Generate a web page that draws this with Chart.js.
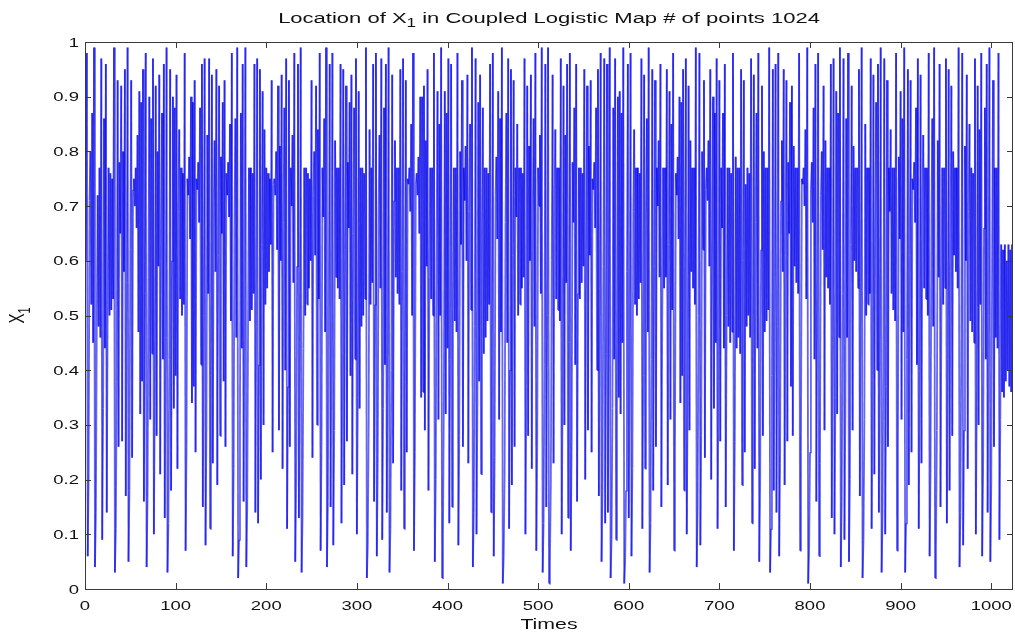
<!DOCTYPE html>
<html>
<head>
<meta charset="utf-8">
<script src="https://cdn.jsdelivr.net/npm/chart.js@4.4.1/dist/chart.umd.min.js"></script>
<style>
html,body{margin:0;padding:0;background:#fff;}
#wrap{width:1015px;height:633px;}
</style>
</head>
<body>
<div id="wrap"><canvas id="c" width="1015" height="633"></canvas></div>
<script>
// ---- text ----
const titleMain = "Location of X";
const titleSub = "1";
const titleRest = " in Coupled Logistic Map # of points 1024";
const xAxisTitle = "Times";
const yAxisTitleMain = "X";
const yAxisTitleSub = "1";

// ---- tick labels ----
const xTickValues = [0,100,200,300,400,500,600,700,800,900,1000];
const xTickLabels = ["0","100","200","300","400","500","600","700","800","900","1000"];
const yTickValues = [0,0.1,0.2,0.3,0.4,0.5,0.6,0.7,0.8,0.9,1];
const yTickLabels = ["0","0.1","0.2","0.3","0.4","0.5","0.6","0.7","0.8","0.9","1"];

// ---- series X1 in blocks of 64 steps ----
const seg00 = [0.60,0.98,0.06,0.21,0.71,0.80,0.52,0.87,0.45,0.99,0.04,0.14,0.49,0.72,0.48,0.77,
0.46,0.97,0.09,0.33,0.86,0.44,0.96,0.14,0.52,0.77,0.50,0.76,0.51,0.75,0.53,0.99,
0.03,0.11,0.38,0.93,0.26,0.78,0.65,0.92,0.27,0.80,0.58,0.95,0.17,0.56,0.99,0.05,
0.18,0.62,0.93,0.24,0.73,0.75,0.70,0.77,0.66,0.83,0.47,0.91,0.32,0.89,0.38,0.95];
const seg01 = [0.16,0.54,0.98,0.04,0.17,0.57,0.90,0.31,0.86,0.43,0.97,0.10,0.36,0.92,0.28,0.80,
0.59,0.94,0.21,0.66,0.87,0.42,0.96,0.13,0.46,0.99,0.03,0.12,0.42,0.95,0.18,0.60,
0.90,0.33,0.88,0.39,0.94,0.22,0.69,0.84,0.53,0.77,0.50,0.76,0.52,0.98,0.07,0.26,
0.75,0.72,0.79,0.64,0.90,0.34,0.89,0.37,0.93,0.25,0.75,0.73,0.78,0.67,0.88,0.41];
const seg02 = [0.96,0.15,0.50,0.97,0.08,0.30,0.83,0.54,0.97,0.11,0.39,0.94,0.23,0.70,0.82,0.58,
0.95,0.19,0.61,0.92,0.28,0.79,0.65,0.89,0.38,0.93,0.26,0.76,0.72,0.78,0.68,0.85,
0.49,0.98,0.06,0.22,0.68,0.86,0.46,0.99,0.02,0.09,0.32,0.87,0.44,0.96,0.16,0.53,
0.99,0.04,0.15,0.51,0.77,0.49,0.77,0.51,0.76,0.54,0.96,0.14,0.48,0.97,0.12,0.41];
const seg03 = [0.95,0.20,0.63,0.91,0.30,0.84,0.52,0.77,0.55,0.76,0.58,0.75,0.63,0.93,0.25,0.74,
0.75,0.72,0.80,0.62,0.92,0.29,0.81,0.60,0.94,0.22,0.67,0.88,0.40,0.97,0.11,0.37,
0.93,0.26,0.77,0.70,0.83,0.56,0.98,0.05,0.19,0.59,0.96,0.13,0.45,0.99,0.03,0.13,
0.44,0.77,0.50,0.77,0.52,0.76,0.55,0.75,0.60,0.93,0.24,0.72,0.80,0.61,0.92,0.30];
const seg04 = [0.84,0.53,0.98,0.07,0.27,0.77,0.68,0.86,0.47,0.99,0.04,0.16,0.53,0.96,0.15,0.49,
0.98,0.08,0.29,0.82,0.57,0.77,0.55,0.77,0.53,0.96,0.12,0.43,0.95,0.19,0.62,0.92,
0.27,0.78,0.66,0.89,0.39,0.94,0.21,0.65,0.88,0.42,0.97,0.10,0.35,0.91,0.33,0.77,
0.48,0.77,0.50,0.76,0.53,0.99,0.02,0.08,0.30,0.84,0.52,0.77,0.56,0.96,0.16,0.52];
const seg05 = [0.98,0.06,0.23,0.70,0.83,0.55,0.97,0.09,0.33,0.88,0.41,0.96,0.14,0.47,0.99,0.03,
0.11,0.40,0.94,0.23,0.71,0.82,0.57,0.77,0.54,0.77,0.52,0.95,0.18,0.58,0.97,0.11,
0.38,0.93,0.25,0.75,0.74,0.77,0.69,0.85,0.50,0.98,0.07,0.25,0.74,0.76,0.72,0.79,
0.65,0.90,0.35,0.90,0.36,0.92,0.29,0.82,0.59,0.95,0.18,0.57,0.77,0.53,0.77,0.50];
const seg06 = [0.98,0.05,0.20,0.64,0.91,0.31,0.85,0.50,0.99,0.02,0.10,0.36,0.91,0.32,0.87,0.44,
0.97,0.12,0.42,0.96,0.15,0.51,0.77,0.49,0.77,0.47,0.98,0.08,0.28,0.80,0.63,0.93,
0.26,0.77,0.71,0.81,0.60,0.94,0.23,0.69,0.85,0.51,0.99,0.04,0.14,0.48,0.97,0.10,
0.34,0.89,0.38,0.94,0.21,0.66,0.88,0.43,0.77,0.46,0.77,0.49,0.76,0.52,0.96,0.14];
const seg07 = [0.47,0.98,0.06,0.24,0.72,0.79,0.64,0.91,0.31,0.86,0.47,0.99,0.01,0.06,0.21,0.67,
0.87,0.45,0.97,0.11,0.40,0.95,0.19,0.61,0.93,0.26,0.77,0.68,0.85,0.50,0.77,0.52,
0.77,0.55,0.76,0.57,0.97,0.10,0.37,0.92,0.28,0.81,0.60,0.94,0.22,0.68,0.86,0.48,
0.98,0.07,0.26,0.77,0.70,0.83,0.54,0.99,0.03,0.12,0.41,0.96,0.15,0.50,0.99,0.01];
const seg08 = [0.05,0.19,0.60,0.94,0.23,0.70,0.84,0.53,0.77,0.51,0.77,0.49,0.97,0.10,0.36,0.92,
0.30,0.83,0.56,0.96,0.13,0.45,0.98,0.07,0.27,0.78,0.67,0.88,0.41,0.96,0.16,0.54,
0.77,0.53,0.77,0.56,0.76,0.59,0.95,0.20,0.62,0.92,0.29,0.81,0.61,0.93,0.25,0.75,
0.73,0.78,0.66,0.88,0.40,0.95,0.17,0.55,0.98,0.05,0.18,0.59,0.97,0.12,0.43,0.96];
const seg09 = [0.14,0.49,0.99,0.02,0.09,0.33,0.88,0.42,0.97,0.09,0.34,0.90,0.35,0.91,0.32,0.87,
0.45,0.99,0.01,0.05,0.18,0.58,0.96,0.13,0.46,0.98,0.06,0.22,0.69,0.84,0.52,0.77,
0.50,0.77,0.53,0.76,0.56,0.97,0.11,0.39,0.94,0.22,0.68,0.86,0.47,0.99,0.03,0.12,
0.42,0.95,0.18,0.59,0.93,0.26,0.77,0.70,0.82,0.57,0.96,0.15,0.51,0.77,0.55,0.77];
const seg10 = [0.57,0.95,0.19,0.63,0.91,0.31,0.85,0.51,0.98,0.07,0.26,0.76,0.72,0.79,0.64,0.90,
0.34,0.89,0.39,0.95,0.18,0.59,0.97,0.10,0.36,0.92,0.29,0.82,0.58,0.77,0.55,0.77,
0.52,0.99,0.04,0.15,0.50,0.98,0.08,0.28,0.80,0.62,0.93,0.24,0.73,0.77,0.71,0.82,
0.59,0.95,0.20,0.64,0.90,0.33,0.87,0.45,0.97,0.11,0.38,0.93,0.27,0.77,0.66,0.87];
const seg11 = [0.44,0.96,0.15,0.50,0.77,0.48,0.77,0.45,0.76,0.47,0.98,0.07,0.27,0.79,0.44,0.77,
0.46,0.77,0.43,0.95,0.19,0.60,0.93,0.25,0.74,0.48,0.77,0.50,0.76,0.46,0.97,0.12,
0.41,0.94,0.22,0.67,0.87,0.44,0.98,0.05,0.19,0.62,0.92,0.28,0.80,0.47,0.77,0.49,
0.77,0.51,0.99,0.03,0.11,0.39,0.95,0.18,0.57,0.96,0.14,0.48,0.98,0.06,0.23,0.71];
const seg12 = [0.82,0.58,0.95,0.19,0.61,0.93,0.27,0.78,0.65,0.89,0.37,0.92,0.28,0.81,0.59,0.77,
0.56,0.77,0.54,0.98,0.07,0.25,0.75,0.74,0.77,0.70,0.84,0.53,0.99,0.01,0.07,0.25,
0.73,0.78,0.67,0.88,0.42,0.96,0.16,0.53,0.98,0.06,0.23,0.72,0.80,0.62,0.92,0.29,
0.82,0.57,0.77,0.55,0.77,0.52,0.96,0.13,0.45,0.97,0.10,0.35,0.91,0.32,0.87,0.46];
const seg13 = [0.99,0.04,0.16,0.54,0.97,0.09,0.32,0.86,0.46,0.98,0.05,0.20,0.63,0.92,0.29,0.81,
0.60,0.77,0.58,0.77,0.55,0.95,0.17,0.56,0.99,0.02,0.09,0.31,0.85,0.50,0.77,0.52,
0.77,0.54,0.97,0.11,0.39,0.94,0.21,0.66,0.89,0.40,0.96,0.14,0.49,0.99,0.03,0.13,
0.45,0.97,0.10,0.37,0.93,0.26,0.77,0.69,0.84,0.54,0.77,0.51,0.77,0.49,0.98,0.07];
const seg14 = [0.27,0.79,0.64,0.91,0.31,0.86,0.47,0.99,0.03,0.12,0.42,0.95,0.19,0.61,0.93,0.25,
0.75,0.73,0.78,0.67,0.88,0.41,0.97,0.11,0.40,0.94,0.23,0.70,0.83,0.55,0.77,0.53,
0.77,0.50,0.98,0.06,0.22,0.68,0.86,0.48,0.99,0.02,0.08,0.29,0.82,0.57,0.96,0.15,
0.51,0.77,0.52,0.77,0.55,0.97,0.12,0.42,0.95,0.18,0.58,0.92,0.28,0.80,0.61,0.77];
const seg15 = [0.58,0.77,0.55,0.99,0.04,0.14,0.47,0.98,0.08,0.29,0.81,0.60,0.94,0.22,0.69,0.85,
0.49,0.77,0.47,0.76,0.45,0.97,0.10,0.36,0.92,0.30,0.84,0.52,0.98,0.06,0.21,0.66,
0.88,0.42,0.96,0.14,0.50,0.99,0.05,0.19,0.62,0.93,0.26,0.77,0.46,0.77,0.44,0.98,
0.09,0.31,0.63,0.36,0.62,0.35,0.63,0.38,0.60,0.40,0.63,0.37,0.62,0.36,0.63,0.35];

const x1Values = [].concat(seg00,seg01,seg02,seg03,seg04,seg05,seg06,seg07,
                           seg08,seg09,seg10,seg11,seg12,seg13,seg14,seg15);
const points = x1Values.map((v,i)=>({x:i+1, y:v}));

// ---- style ----
const FONT = '"Liberation Sans", Arial, Helvetica, sans-serif';
const TEXT_SX = 1.42;   // the picture's text is stretched horizontally
const AXIS_COLOR = '#3a3a3a';
const LINE_A = 'rgba(0,0,235,0.60)';
const LINE_B = 'rgba(0,0,235,0.61)';

function stretchedText(ctx, txt, x, y, align, size, base){
  ctx.save();
  ctx.font = size + 'px ' + FONT;
  ctx.textAlign = align;
  ctx.textBaseline = base || 'alphabetic';
  ctx.translate(x, y);
  ctx.scale(TEXT_SX, 1);
  ctx.fillText(txt, 0, 0);
  ctx.restore();
}

const matlabAxes = {
  id: 'matlabAxes',
  afterDatasetsDraw(chart){
    const ctx = chart.ctx, a = chart.chartArea;
    const xs = chart.scales.x, ys = chart.scales.y;
    ctx.save();
    ctx.strokeStyle = AXIS_COLOR;
    ctx.lineWidth = 1;
    ctx.strokeRect(Math.round(a.left)+0.5, Math.round(a.top)+0.5,
                   Math.round(a.right-a.left)-1, Math.round(a.bottom-a.top));
    const TL = 6;
    ctx.beginPath();
    xs.ticks.forEach(t=>{
      const px = Math.round(xs.getPixelForValue(t.value))+0.5;
      ctx.moveTo(px, a.bottom); ctx.lineTo(px, a.bottom-TL);
      ctx.moveTo(px, a.top); ctx.lineTo(px, a.top+TL);
    });
    ys.ticks.forEach(t=>{
      const py = Math.round(ys.getPixelForValue(t.value))+0.5;
      ctx.moveTo(a.left, py); ctx.lineTo(a.left+TL, py);
      ctx.moveTo(a.right, py); ctx.lineTo(a.right-TL, py);
    });
    ctx.stroke();

    ctx.fillStyle = '#111';
    xs.ticks.forEach((t,i)=>{
      const px = xs.getPixelForValue(t.value);
      stretchedText(ctx, xTickLabels[i], px, a.bottom+21, 'center', 13);
    });
    ys.ticks.forEach((t,i)=>{
      const py = ys.getPixelForValue(t.value);
      stretchedText(ctx, yTickLabels[i], a.left-6, py+1, 'right', 13, 'middle');
    });
    stretchedText(ctx, xAxisTitle, (a.left+a.right)/2, 629, 'center', 15);
    // y axis title (rotated, with subscript)
    ctx.save();
    ctx.translate(24, (a.top+a.bottom)/2);
    ctx.scale(TEXT_SX, 1);
    ctx.rotate(-Math.PI/2);
    ctx.font = '15px ' + FONT;
    const wX = ctx.measureText(yAxisTitleMain).width;
    ctx.font = '11px ' + FONT;
    const wS = ctx.measureText(yAxisTitleSub).width;
    const start = -(wX+wS)/2;
    ctx.textAlign = 'left';
    ctx.font = '15px ' + FONT;
    ctx.fillText(yAxisTitleMain, start, 0);
    ctx.font = '11px ' + FONT;
    ctx.fillText(yAxisTitleSub, start+wX, 4);
    ctx.restore();
    // title with subscript
    ctx.save();
    ctx.translate((a.left+a.right)/2, 23);
    ctx.scale(TEXT_SX, 1);
    ctx.font = '15.5px ' + FONT;
    const w1 = ctx.measureText(titleMain).width;
    const w3 = ctx.measureText(titleRest).width;
    ctx.font = '12px ' + FONT;
    const w2 = ctx.measureText(titleSub).width;
    let sx = -(w1+w2+w3)/2;
    ctx.textAlign = 'left';
    ctx.font = '15.5px ' + FONT;
    ctx.fillText(titleMain, sx, 0);
    ctx.font = '12px ' + FONT;
    ctx.fillText(titleSub, sx+w1, 4);
    ctx.font = '15.5px ' + FONT;
    ctx.fillText(titleRest, sx+w1+w2, 0);
    ctx.restore();
    ctx.restore();
  }
};

new Chart(document.getElementById('c'), {
  type: 'line',
  data: {
    datasets: [{
      label: 'X1',
      data: points,
      borderColor: LINE_A,
      borderWidth: 1.8,
      pointRadius: 0,
      tension: 0,
      fill: false,
      segment: {
        // alternate nearly identical colours so each step is stroked on its own
        borderColor: c => (c.p0DataIndex % 2 ? LINE_A : LINE_B)
      }
    }]
  },
  options: {
    responsive: false,
    animation: false,
    parsing: false,
    normalized: true,
    events: [],
    layout: { padding: { top: 42, right: 2, left: 0, bottom: 0 } },
    plugins: { legend: { display: false }, title: { display: false }, tooltip: { enabled: false } },
    scales: {
      x: {
        type: 'linear', min: 0, max: 1024,
        grid: { display: false }, border: { display: false },
        ticks: { display: false },
        afterBuildTicks(s){ s.ticks = xTickValues.map(v=>({value:v})); },
        afterFit(s){ s.height = 44; }
      },
      y: {
        type: 'linear', min: 0, max: 1,
        grid: { display: false }, border: { display: false },
        ticks: { display: false },
        afterBuildTicks(s){ s.ticks = yTickValues.map(v=>({value:v})); },
        afterFit(s){ s.width = 85; }
      }
    }
  },
  plugins: [matlabAxes]
});
</script>
</body>
</html>
